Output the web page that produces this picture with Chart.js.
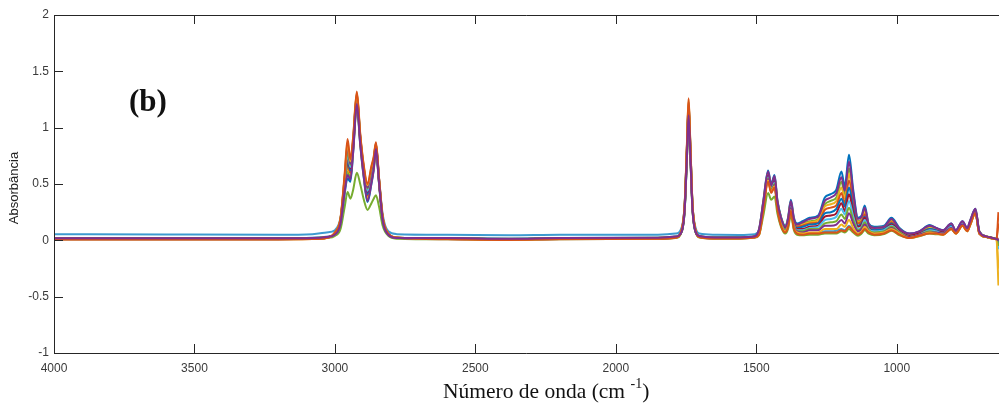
<!DOCTYPE html>
<html>
<head>
<meta charset="utf-8">
<script src="https://cdn.jsdelivr.net/npm/chart.js@4.4.1/dist/chart.umd.min.js"></script>
<style>
  body { margin: 0; background: #fff; }
  canvas { display: block; }
</style>
</head>
<body>
<canvas id="spectra" width="999" height="403"></canvas>
<script>
// wavenumber grid shared by every spectrum (cm-1, high to low)
const wavenumbers = [
  4000, 3600, 3200, 3080, 3030,
  3000, 2980, 2965, 2955, 2945, 2935, 2922, 2910, 2897, 2884, 2870, 2862, 2854, 2843, 2830, 2810, 2780,
  2600, 2380, 2200,
  1850, 1787, 1765, 1755, 1747, 1741, 1735, 1727, 1717, 1702,
  1650, 1560, 1505,
  1490, 1475, 1458, 1447, 1435, 1425, 1412, 1397, 1387, 1377, 1366, 1355,
  1335, 1310, 1280, 1256, 1235, 1215, 1197, 1185, 1170, 1155, 1138, 1125, 1114, 1100,
  1080, 1045, 1019, 990, 955, 920, 883, 860, 835, 806, 790, 766, 749, 738, 720, 706, 680, 658, 645, 638
];

// absorbance of each sample
const abs01 = [
  .008, .008, .008, .011, .02,
  .07, .20, .60, .90, .72, .92, 1.32, .95, .66, .50, .66, .74, .87, .56, .21, .06, .025,
  .01, .004, .01,
  .013, .023, .10, .32, .85, 1.26, .88, .32, .10, .028,
  .016, .016, .026,
  .05, .27, .52, .42, .47, .28, .13, .07, .12, .26, .10, .06,
  .05, .06, .06, .07, .07, .07, .09, .08, .12, .08, .05, .07, .10, .07,
  .05, .06, .09, .05, .02, .04, .06, .06, .05, .10, .06, .13, .08, .14, .24, .06, .03, .015, .01, .25
];
const abs02 = [
  .009, .009, .009, .012, .021,
  .07, .20, .58, .87, .70, .91, 1.31, .94, .65, .49, .65, .73, .86, .55, .21, .06, .025,
  .011, .005, .011,
  .014, .024, .10, .31, .84, 1.25, .87, .32, .10, .029,
  .017, .017, .027,
  .05, .28, .53, .43, .48, .29, .14, .08, .13, .27, .11, .07,
  .06, .07, .07, .10, .10, .10, .14, .12, .18, .11, .06, .08, .12, .08,
  .06, .07, .10, .06, .02, .04, .07, .06, .05, .10, .06, .13, .08, .14, .24, .06, .03, .015, .01, -.4
];
const abs03 = [
  .01, .01, .01, .013, .022,
  .07, .19, .57, .84, .68, .89, 1.30, .93, .64, .47, .63, .72, .86, .55, .20, .06, .024,
  .012, .006, .012,
  .015, .025, .10, .31, .83, 1.23, .86, .31, .10, .03,
  .018, .018, .028,
  .06, .28, .54, .43, .49, .29, .14, .08, .13, .28, .12, .08,
  .07, .09, .09, .13, .13, .14, .18, .15, .24, .15, .08, .10, .14, .08,
  .06, .07, .11, .06, .03, .05, .07, .07, .06, .11, .07, .14, .09, .15, .25, .06, .03, .015, .01, 0
];
const abs04 = [
  .011, .011, .011, .014, .023,
  .06, .19, .55, .80, .67, .88, 1.29, .92, .63, .46, .62, .71, .85, .54, .20, .06, .024,
  .013, .007, .013,
  .016, .026, .09, .30, .81, 1.22, .85, .31, .09, .031,
  .019, .019, .029,
  .06, .29, .55, .44, .50, .30, .15, .09, .14, .29, .13, .08,
  .08, .10, .10, .15, .16, .17, .23, .19, .29, .18, .09, .11, .16, .09,
  .07, .08, .12, .07, .03, .05, .08, .07, .06, .11, .07, .14, .09, .15, .25, .07, .03, .015, .01, -.05
];
const abs05 = [
  .012, .012, .012, .015, .024,
  .06, .18, .53, .77, .65, .87, 1.28, .91, .62, .44, .60, .70, .84, .54, .20, .06, .023,
  .014, .008, .014,
  .017, .027, .09, .30, .80, 1.20, .84, .30, .09, .032,
  .02, .02, .03,
  .07, .30, .56, .45, .51, .31, .16, .09, .15, .30, .14, .09,
  .09, .11, .12, .18, .19, .21, .28, .23, .35, .21, .10, .12, .18, .10,
  .08, .09, .13, .07, .03, .05, .09, .08, .06, .12, .07, .15, .09, .15, .25, .07, .03, .015, .01, -.08
];
const abs06 = [
  .013, .013, .013, .016, .025,
  .06, .18, .52, .74, .64, .86, 1.27, .90, .61, .43, .59, .69, .84, .53, .20, .06, .023,
  .015, .009, .015,
  .018, .028, .09, .29, .79, 1.19, .83, .30, .09, .033,
  .021, .021, .031,
  .07, .31, .57, .46, .52, .32, .17, .10, .16, .31, .15, .10,
  .10, .12, .13, .21, .22, .24, .33, .26, .41, .25, .12, .14, .20, .11,
  .08, .09, .14, .08, .04, .06, .09, .08, .07, .12, .07, .15, .09, .16, .26, .07, .03, .02, .01, .02
];
const abs07 = [
  .014, .014, .014, .017, .026,
  .06, .17, .50, .71, .62, .84, 1.25, .90, .60, .41, .57, .67, .83, .53, .19, .05, .022,
  .016, .01, .016,
  .019, .029, .09, .29, .78, 1.17, .81, .29, .09, .034,
  .022, .022, .032,
  .08, .31, .57, .46, .53, .32, .17, .10, .16, .31, .15, .11,
  .12, .14, .15, .24, .25, .28, .37, .30, .47, .28, .13, .15, .21, .11,
  .09, .10, .15, .08, .04, .06, .10, .09, .07, .13, .08, .15, .10, .16, .26, .07, .03, .02, .01, -.03
];
const abs08 = [
  .015, .015, .015, .018, .027,
  .06, .17, .49, .68, .60, .83, 1.24, .89, .59, .40, .56, .66, .83, .52, .19, .05, .022,
  .017, .011, .017,
  .02, .03, .09, .28, .77, 1.16, .80, .29, .09, .035,
  .023, .023, .033,
  .08, .32, .58, .47, .54, .33, .18, .11, .17, .32, .16, .12,
  .13, .15, .16, .27, .29, .31, .42, .33, .53, .32, .15, .17, .23, .12,
  .09, .10, .16, .09, .04, .07, .10, .09, .08, .13, .08, .16, .10, .16, .26, .07, .03, .02, .01, .15
];
const abs09 = [
  .016, .016, .016, .019, .028,
  .05, .16, .47, .65, .59, .82, 1.23, .88, .58, .38, .54, .65, .82, .52, .19, .05, .021,
  .018, .012, .018,
  .021, .031, .09, .28, .76, 1.14, .79, .28, .09, .036,
  .024, .024, .034,
  .09, .33, .59, .48, .55, .34, .19, .11, .18, .33, .17, .13,
  .14, .16, .18, .30, .32, .35, .47, .37, .59, .35, .16, .18, .25, .13,
  .10, .11, .17, .09, .05, .07, .11, .10, .08, .14, .08, .16, .10, .17, .27, .07, .035, .02, .01, -.25
];
const abs10 = [
  .017, .017, .017, .02, .029,
  .05, .16, .45, .61, .56, .81, 1.22, .87, .57, .37, .53, .64, .81, .51, .19, .05, .021,
  .019, .013, .019,
  .022, .032, .08, .27, .74, 1.13, .78, .28, .08, .037,
  .025, .025, .035,
  .09, .34, .60, .49, .56, .35, .20, .12, .19, .34, .18, .13,
  .15, .17, .19, .32, .35, .38, .52, .41, .64, .38, .17, .19, .27, .14,
  .11, .12, .18, .10, .05, .07, .12, .10, .08, .14, .08, .16, .10, .17, .27, .08, .035, .02, .01, -.04
];
const abs11 = [
  .018, .018, .018, .021, .03,
  .05, .15, .44, .58, .54, .79, 1.21, .86, .56, .35, .51, .63, .81, .51, .18, .05, .02,
  .02, .014, .02,
  .023, .033, .08, .27, .73, 1.11, .77, .27, .08, .038,
  .026, .026, .036,
  .10, .34, .61, .49, .57, .35, .20, .12, .19, .35, .19, .14,
  .16, .19, .21, .35, .38, .42, .56, .44, .70, .42, .19, .21, .29, .14,
  .11, .12, .19, .10, .06, .08, .13, .11, .09, .15, .09, .17, .11, .18, .28, .08, .035, .02, .01, 0
];
const abs12 = [
  .019, .019, .019, .022, .031,
  .05, .15, .42, .55, .52, .78, 1.20, .85, .55, .34, .50, .62, .80, .50, .18, .05, .02,
  .021, .015, .021,
  .024, .034, .08, .26, .72, 1.10, .76, .27, .08, .039,
  .027, .027, .037,
  .10, .35, .62, .50, .58, .36, .21, .13, .20, .36, .20, .15,
  .17, .20, .22, .38, .41, .45, .61, .48, .76, .45, .20, .22, .31, .15,
  .12, .13, .20, .11, .06, .08, .135, .11, .09, .15, .09, .17, .11, .18, .28, .08, .035, .02, .01, -.02
];
// sample with weak C-H bands
const absLow = [
  .01, .01, .01, .013, .02,
  .04, .10, .30, .43, .37, .45, .60, .50, .36, .27, .33, .37, .40, .30, .13, .04, .015,
  .01, .005, .01,
  .012, .02, .08, .27, .72, 1.08, .75, .27, .08, .025,
  .015, .015, .025,
  .05, .22, .42, .36, .39, .24, .12, .06, .10, .22, .09, .05,
  .045, .05, .05, .06, .06, .06, .08, .07, .10, .07, .04, .06, .09, .06,
  .045, .055, .085, .045, .02, .035, .06, .055, .05, .10, .06, .13, .08, .14, .24, .06, .03, .015, .01, -.01
];
// sample with raised baseline
const absHigh = [
  .055, .052, .05, .055, .07,
  .09, .20, .50, .72, .62, .82, 1.26, .92, .60, .42, .56, .66, .83, .55, .23, .08, .055,
  .05, .045, .05,
  .05, .06, .12, .32, .82, 1.18, .85, .32, .12, .06,
  .05, .048, .055,
  .09, .30, .55, .45, .50, .30, .16, .09, .14, .28, .12, .07,
  .06, .065, .065, .08, .08, .085, .10, .09, .13, .09, .06, .08, .11, .07,
  .06, .065, .095, .055, .03, .045, .065, .065, .055, .105, .065, .135, .085, .145, .245, .065, .035, .02, .012, 0
];

const xTicks = [4000, 3500, 3000, 2500, 2000, 1500, 1000];
const yTicks = [-1, -0.5, 0, 0.5, 1, 1.5, 2];

// matlab-like line colours; earlier entries are painted over later ones
const series = [
  [abs11, '#7E2F8E'],
  [abs01, '#D95319'],
  [abs02, '#EDB120'],
  [abs03, '#7E2F8E'],
  [abs04, '#77AC30'],
  [abs05, '#4DBEEE'],
  [abs06, '#A2142F'],
  [abs07, '#0072BD'],
  [abs08, '#D95319'],
  [abs09, '#EDB120'],
  [abs10, '#77AC30'],
  [abs12, '#0072BD'],
  [absLow, '#77AC30'],
  [absHigh, '#3d9bd0']
];

const datasets = series.map(([vals, color]) => ({
  data: wavenumbers.map((w, i) => ({ x: w, y: vals[i] })),
  borderColor: color,
  borderWidth: 2,
  pointRadius: 0,
  cubicInterpolationMode: 'monotone',
  fill: false
}));

const axisColor = '#262626';
const tickLen = 9;
const tickFont = { family: '"Liberation Sans", Arial, sans-serif', size: 12 };

// box edges, inward tick marks and the free text
const decorations = {
  id: 'decorations',
  afterDraw(chart) {
    const { ctx, chartArea: a, scales: { x, y } } = chart;
    ctx.save();
    ctx.strokeStyle = axisColor;
    ctx.lineWidth = 1;
    ctx.beginPath();
    ctx.moveTo(a.left + 0.5, a.top + 0.5);
    ctx.lineTo(a.right, a.top + 0.5);
    ctx.moveTo(a.left + 0.5, a.top);
    ctx.lineTo(a.left + 0.5, a.bottom + 0.5);
    ctx.lineTo(a.right, a.bottom + 0.5);
    xTicks.forEach(v => {
      const px = Math.round(x.getPixelForValue(v)) + 0.5;
      ctx.moveTo(px, a.bottom);
      ctx.lineTo(px, a.bottom - tickLen);
      ctx.moveTo(px, a.top);
      ctx.lineTo(px, a.top + tickLen);
    });
    yTicks.forEach(v => {
      const py = Math.round(y.getPixelForValue(v)) + 0.5;
      ctx.moveTo(a.left, py);
      ctx.lineTo(a.left + tickLen, py);
    });
    ctx.stroke();

    // y title
    ctx.fillStyle = '#222';
    ctx.font = '13px "Liberation Sans", Arial, sans-serif';
    ctx.textAlign = 'center';
    ctx.textBaseline = 'middle';
    ctx.save();
    ctx.translate(14, 188);
    ctx.rotate(-Math.PI / 2);
    ctx.fillText('Absorbância', 0, 0);
    ctx.restore();

    // x title with superscript
    ctx.textAlign = 'left';
    ctx.textBaseline = 'alphabetic';
    ctx.fillStyle = '#111';
    let tx = 443;
    const base = 398;
    ctx.font = '21.5px "Liberation Serif", "Times New Roman", serif';
    const t1 = 'Número de onda (cm ';
    ctx.fillText(t1, tx, base);
    tx += ctx.measureText(t1).width;
    ctx.font = '14px "Liberation Serif", "Times New Roman", serif';
    ctx.fillText('-1', tx, base - 10);
    tx += ctx.measureText('-1').width;
    ctx.font = '21.5px "Liberation Serif", "Times New Roman", serif';
    ctx.fillText(')', tx, base);

    // panel letter
    ctx.font = 'bold 31px "Liberation Serif", "Times New Roman", serif';
    ctx.fillText('(b)', 129, 111);
    ctx.restore();
  }
};

new Chart(document.getElementById('spectra'), {
  type: 'line',
  data: { datasets },
  options: {
    responsive: false,
    animation: false,
    layout: { padding: { top: 15, right: 0, left: 0, bottom: 0 } },
    plugins: { legend: { display: false }, tooltip: { enabled: false } },
    scales: {
      x: {
        type: 'linear',
        reverse: true,
        min: 636,
        max: 4000,
        grid: { display: false, drawTicks: false },
        border: { display: false },
        afterBuildTicks: s => { s.ticks = xTicks.map(v => ({ value: v })); },
        afterFit: s => { s.height = 50; },
        ticks: {
          padding: 8,
          maxRotation: 0,
          autoSkip: false,
          color: '#3a3a3a',
          font: tickFont,
          callback: v => String(v)
        }
      },
      y: {
        min: -1,
        max: 2,
        grid: { display: false, drawTicks: false },
        border: { display: false },
        afterBuildTicks: s => { s.ticks = yTicks.map(v => ({ value: v })); },
        afterFit: s => { s.width = 54; },
        ticks: {
          padding: 5,
          color: '#3a3a3a',
          font: tickFont,
          callback: v => String(v)
        }
      }
    }
  },
  plugins: [decorations]
});
</script>
</body>
</html>
